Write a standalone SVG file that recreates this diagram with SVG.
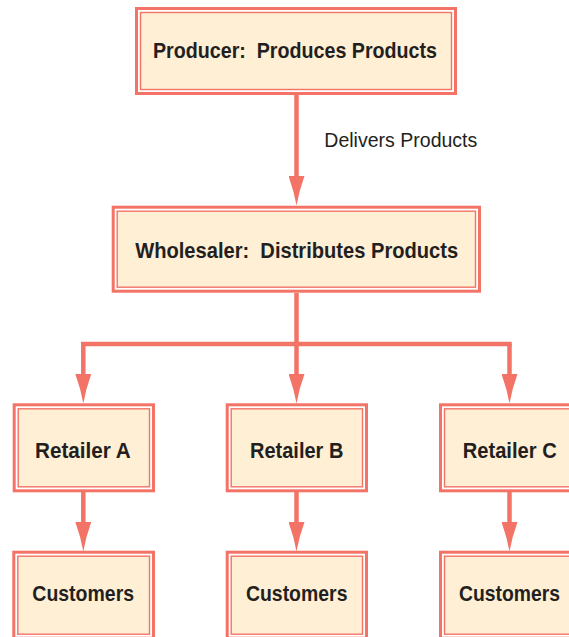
<svg xmlns="http://www.w3.org/2000/svg" width="569" height="637" viewBox="0 0 569 637" xml:space="preserve">
<style>
.outer{fill:#ffffff;stroke:#f37366;stroke-width:3}
.inner{fill:#feefd5;stroke:#f37366;stroke-width:1.4}
.lbl{font-family:"Liberation Sans",Arial,sans-serif;font-weight:bold;font-size:22px;fill:#231f20;text-anchor:middle;white-space:pre}
.edge{fill:none;stroke:#f37366;stroke-width:4.5;stroke-linejoin:miter}
.note{font-family:"Liberation Sans",Arial,sans-serif;font-size:20.5px;fill:#231f20}
</style>
<defs>
<marker id="ah" markerUnits="userSpaceOnUse" markerWidth="30" markerHeight="16" refX="0" refY="8" orient="auto" viewBox="0 0 30 16">
<path d="M0,0 Q15,5.5 29.5,8 Q15,10.5 0,16 Z" fill="#f37366"/>
</marker>
</defs>
<g id="connectors">
<path class="edge" d="M296.5,95 V176" marker-end="url(#ah)"/>
<path class="edge" d="M296.5,293 V374" marker-end="url(#ah)"/>
<path class="edge" d="M83.3,344 V374" marker-end="url(#ah)"/>
<path class="edge" d="M509.5,344 V374" marker-end="url(#ah)"/>
<path class="edge" d="M81,344 H511.7"/>
<path class="edge" d="M83.3,492 V522" marker-end="url(#ah)"/>
<path class="edge" d="M296.5,492 V522" marker-end="url(#ah)"/>
<path class="edge" d="M509.5,492 V522" marker-end="url(#ah)"/>
<text class="note" x="324.3" y="146.7" textLength="153" lengthAdjust="spacingAndGlyphs">Delivers Products</text>
</g>
<g id="producer">
<rect class="outer" x="136.5" y="8.5" width="319" height="85"/>
<rect class="inner" x="140.5" y="12.5" width="311" height="77"/>
<text class="lbl" x="295" y="58.3" textLength="284" lengthAdjust="spacingAndGlyphs">Producer:  Produces Products</text>
</g>
<g id="wholesaler">
<rect class="outer" x="113.2" y="207.2" width="366.3" height="84"/>
<rect class="inner" x="117.2" y="211.2" width="358.3" height="76"/>
<text class="lbl" x="296.7" y="258.3" textLength="323" lengthAdjust="spacingAndGlyphs">Wholesaler:  Distributes Products</text>
</g>
<g id="retailerA">
<rect class="outer" x="14.2" y="404.8" width="139.3" height="86"/>
<rect class="inner" x="18.2" y="408.8" width="131.3" height="78"/>
<text class="lbl" x="82.9" y="458.3" textLength="95.7" lengthAdjust="spacingAndGlyphs">Retailer A</text>
</g>
<g id="retailerB">
<rect class="outer" x="227.2" y="404.8" width="139.3" height="86"/>
<rect class="inner" x="231.2" y="408.8" width="131.3" height="78"/>
<text class="lbl" x="296.7" y="458.3" textLength="93.3" lengthAdjust="spacingAndGlyphs">Retailer B</text>
</g>
<g id="retailerC">
<rect class="outer" x="440.5" y="404.8" width="139.3" height="86"/>
<rect class="inner" x="444.5" y="408.8" width="131.3" height="78"/>
<text class="lbl" x="509.7" y="458.3" textLength="94" lengthAdjust="spacingAndGlyphs">Retailer C</text>
</g>
<g id="customersA">
<rect class="outer" x="13.8" y="552.2" width="139.7" height="86"/>
<rect class="inner" x="17.8" y="556.2" width="131.7" height="78"/>
<text class="lbl" x="83.2" y="601" textLength="101.7" lengthAdjust="spacingAndGlyphs">Customers</text>
</g>
<g id="customersB">
<rect class="outer" x="227.2" y="552.2" width="139.3" height="86"/>
<rect class="inner" x="231.2" y="556.2" width="131.3" height="78"/>
<text class="lbl" x="296.7" y="601" textLength="101.5" lengthAdjust="spacingAndGlyphs">Customers</text>
</g>
<g id="customersC">
<rect class="outer" x="440.5" y="552.2" width="139.3" height="86"/>
<rect class="inner" x="444.5" y="556.2" width="131.3" height="78"/>
<text class="lbl" x="509.5" y="601" textLength="101" lengthAdjust="spacingAndGlyphs">Customers</text>
</g>
</svg>
